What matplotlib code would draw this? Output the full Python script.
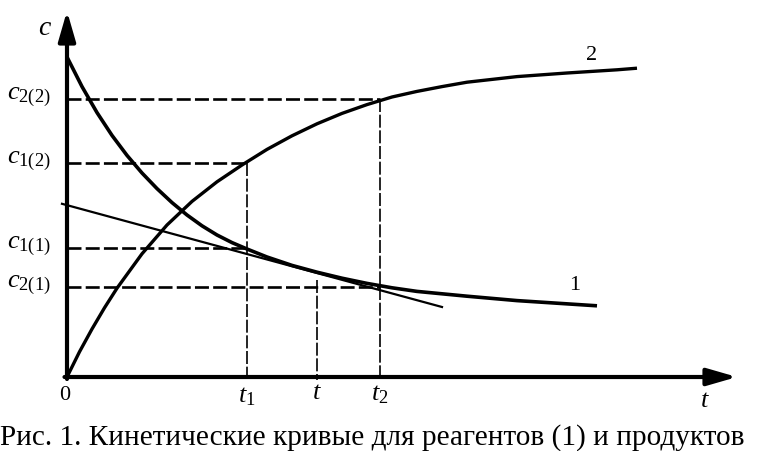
import matplotlib
matplotlib.use('Agg')
import matplotlib.pyplot as plt

plt.rcParams.update({
    'font.family': 'Liberation Serif',
    'mathtext.fontset': 'custom',
    'mathtext.rm': 'Liberation Serif',
    'mathtext.it': 'Liberation Serif:italic',
})

# Curve 1: reagent concentration (decay)
t_reag = [0.0, 0.3, 0.6, 0.9, 1.2, 1.5, 1.8, 2.1, 2.4, 2.7, 3.0, 3.3, 3.6,
          4.0, 4.5, 5.0, 5.5, 6.0, 6.5, 7.0, 8.0, 9.0, 10.6]
c_reag = [8.0, 7.26, 6.61, 6.04, 5.54, 5.10, 4.71, 4.36, 4.05, 3.78, 3.55, 3.36, 3.2,
          3.0, 2.79, 2.62, 2.47, 2.34, 2.23, 2.14, 2.02, 1.91, 1.78]

# Curve 2: product concentration (growth)
t_prod = [0.0, 0.25, 0.5, 0.75, 1.0, 1.5, 2.0, 2.5, 3.0, 3.5, 4.0, 4.5, 5.0,
          5.5, 6.0, 6.5, 7.0, 7.5, 8.0, 9.0, 10.0, 11.0, 11.4]
c_prod = [0.0, 0.63, 1.2, 1.73, 2.22, 3.08, 3.8, 4.39, 4.88, 5.3, 5.69, 6.03, 6.33,
          6.59, 6.81, 7.0, 7.14, 7.26, 7.37, 7.51, 7.6, 7.68, 7.72]

# Tangent to curve 1 at time t
t_tan = [-0.1, 7.5]
c_tan = [4.33, 1.75]

# Marked times and concentrations
t1, t_mid, t2 = 3.6, 5.0, 6.26
c1_1, c2_1, c1_2, c2_2 = 3.22, 2.25, 5.35, 6.95

fig = plt.figure(figsize=(7.74, 4.51), dpi=100)
ax = fig.add_axes([0, 0, 1, 1])
ax.set_xlim(-1.34, 14.14)
ax.set_ylim(-1.85, 9.425)
ax.axis('off')

# axes with arrows
arrow_kw = dict(arrowstyle='-|>,head_length=0.9,head_width=0.26', lw=3, color='black',
                shrinkA=0, shrinkB=0, mutation_scale=20)
ax.annotate('', xy=(0, 9.15), xytext=(0, -0.05), arrowprops=arrow_kw)
ax.annotate('', xy=(13.4, 0), xytext=(-0.05, 0), arrowprops=arrow_kw)

# dashed guide lines
hdash = dict(color='black', lw=1.9, dashes=(5.3, 1.6))
vdash = dict(color='black', lw=1.2, dashes=(7.8, 1.6))
ax.plot([0, t2], [c2_2, c2_2], **hdash)
ax.plot([0, t1], [c1_2, c1_2], **hdash)
ax.plot([0, t1], [c1_1, c1_1], **hdash)
ax.plot([0, t2], [c2_1, c2_1], **hdash)
ax.plot([t1, t1], [c1_2, 0], **vdash)
ax.plot([t2, t2], [c2_2, 0], **vdash)
ax.plot([t_mid, t_mid], [2.42, -0.08], **vdash)

# curves
ax.plot(t_reag, c_reag, color='black', lw=2.6, solid_capstyle='butt', solid_joinstyle='round')
ax.plot(t_prod, c_prod, color='black', lw=2.4, solid_capstyle='butt', solid_joinstyle='round')
ax.plot(t_tan, c_tan, color='black', lw=1.6)

# labels
ax.text(10.16, 2.3, '1', fontsize=16, ha='center', va='center')
ax.text(10.5, 8.05, '2', fontsize=16, ha='center', va='center')
ax.text(-0.3, 8.72, '$c$', fontsize=20, ha='right', va='center')

yl = [(c2_2, '$c_{2(2)}$'), (c1_2, '$c_{1(2)}$'), (c1_1, '$c_{1(1)}$'), (c2_1, '$c_{2(1)}$')]
for y, s in yl:
    ax.text(-1.2, y + 0.05, s, fontsize=19, ha='left', va='center')

ax.text(-0.05, -0.45, '0', fontsize=16, ha='center', va='center')
ax.text(t1, -0.5, '$t_1$', fontsize=19, ha='center', va='center')
ax.text(t_mid, -0.4, '$t$', fontsize=19, ha='center', va='center')
ax.text(t2, -0.45, '$t_2$', fontsize=19, ha='center', va='center')
ax.text(12.75, -0.6, '$t$', fontsize=19, ha='center', va='center')

fig.text(0.0, 0.03, 'Рис. 1. Кинетические кривые для реагентов (1) и продуктов',
         fontsize=21.1, ha='left', va='center')

fig.savefig('out.png', dpi=100)
